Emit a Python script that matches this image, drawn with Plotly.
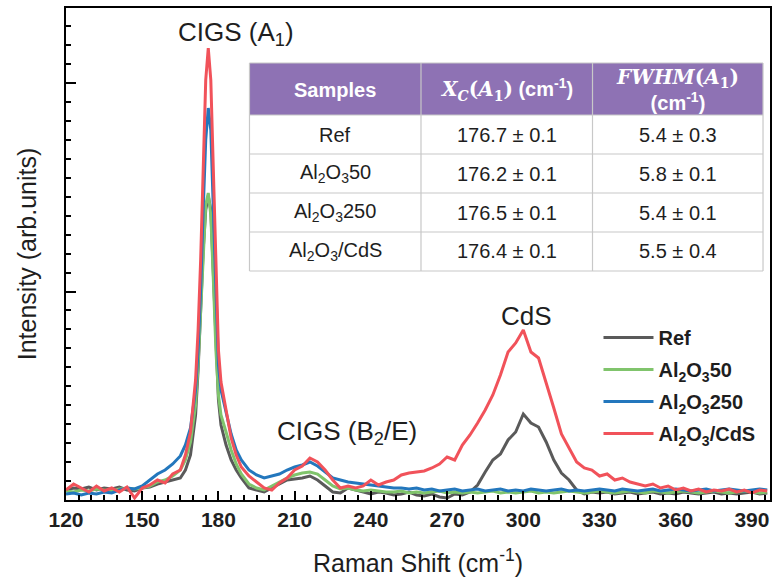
import plotly.graph_objects as go

# ---------------- data ----------------
raman_shift = [120, 123, 126, 129, 132, 135, 138, 141, 144, 147, 150, 153, 156, 159, 162, 165,
               167, 169, 171, 172, 173, 174, 175, 176, 177, 178, 179, 180, 181, 183, 185, 187, 189,
               192, 195, 198, 201, 204, 207, 210, 213, 216, 219, 222, 225, 228, 231, 234, 237, 240,
               243, 246, 249, 252, 255, 258, 261, 264, 267, 270, 273, 276, 279, 282, 285, 288, 291,
               294, 297, 300, 303, 306, 309, 312, 315, 318, 321, 324, 327, 330, 333, 336, 339, 342,
               345, 348, 351, 354, 357, 360, 363, 366, 369, 372, 375, 378, 381, 384, 387, 390, 393, 396]

ref = [10, 12, 11, 13, 10, 12, 11, 13, 10, 9, 12, 13, 16, 18, 20, 22,
       30, 45, 85, 130, 190, 250, 290, 304, 290, 230, 155, 100, 75, 55, 40, 30, 22,
       12, 10, 8, 12, 16, 20, 21, 22, 24, 20, 14, 8, 7, 12, 10, 8, 6,
       8, 7, 5, 6, 8, 5, 4, 6, 3, 2, 6, 5, 8, 15, 28, 40, 46,
       60, 68, 86, 77, 73, 58, 40, 27, 20, 10, 6, 8, 7, 8, 6, 7, 8,
       6, 7, 8, 6, 7, 6, 8, 7, 6, 7, 8, 6, 7, 6, 7, 8, 6, 7]

al2o3_50 = [9, 8, 10, 9, 11, 10, 9, 11, 12, 11, 12, 14, 18, 20, 24, 30,
            40, 58, 95, 135, 190, 250, 295, 307, 285, 220, 150, 105, 85, 68, 50, 36, 26,
            16, 12, 10, 14, 18, 22, 25, 27, 28, 26, 20, 14, 11, 12, 10, 9, 10,
            9, 8, 8, 9, 7, 8, 7, 8, 9, 7, 8, 7, 8, 7, 8, 9, 7,
            8, 7, 8, 9, 7, 8, 7, 8, 9, 8, 7, 8, 9, 8, 7, 8, 9,
            8, 7, 9, 8, 7, 8, 9, 8, 7, 8, 9, 8, 7, 8, 9, 8, 7, 8]

al2o3_250 = [6, 7, 5, 7, 6, 8, 7, 10, 12, 11, 14, 20, 26, 30, 36, 44,
             55, 72, 110, 150, 210, 290, 360, 392, 370, 290, 200, 135, 110, 88, 66, 50, 40,
             30, 25, 22, 24, 26, 30, 33, 35, 38, 34, 28, 22, 20, 18, 17, 16, 15,
             14, 13, 12, 12, 11, 12, 10, 11, 9, 10, 11, 9, 10, 11, 9, 10, 11,
             9, 10, 9, 11, 10, 9, 10, 11, 9, 10, 9, 10, 11, 10, 9, 11, 10,
             9, 10, 11, 9, 10, 11, 10, 9, 10, 11, 9, 10, 11, 10, 9, 10, 11, 10]

al2o3_cds = [10, 16, 12, 8, 14, 9, 12, 8, 13, 2, 12, 15, 20, 17, 26, 30,
             45, 68, 120, 170, 240, 330, 420, 452, 420, 330, 230, 150, 118, 88, 62, 45, 33,
             24, 18, 12, 10, 17, 22, 30, 34, 42, 38, 30, 20, 12, 14, 12, 14, 20,
             15, 18, 20, 25, 27, 28, 29, 32, 36, 43, 40, 55, 65, 77, 90, 105, 125,
             148, 157, 170, 148, 142, 118, 92, 66, 52, 38, 32, 30, 24, 26, 20, 22, 18,
             16, 14, 16, 12, 14, 10, 12, 9, 11, 8, 10, 9, 11, 8, 10, 7, 10, 9]

series_names = ["Ref", "Al<sub>2</sub>O<sub>3</sub>50", "Al<sub>2</sub>O<sub>3</sub>250",
                "Al<sub>2</sub>O<sub>3</sub>/CdS"]
series_values = [ref, al2o3_50, al2o3_250, al2o3_cds]
series_colors = ["#5A5A5A", "#80C46C", "#2377BD", "#F1525A"]

x_ticks = [120, 150, 180, 210, 240, 270, 300, 330, 360, 390]

MATH = "font-family:DejaVu Serif"
table_header = ["<b>Samples</b>",
                f"<span style='{MATH}'><b><i>X<sub>C</sub></i>(<i>A</i><sub>1</sub>)</b></span><b> (cm<sup>-1</sup>)</b>",
                f"<span style='{MATH}'><b><i>FWHM</i>(<i>A</i><sub>1</sub>)</b></span><br><b>(cm<sup>-1</sup>)</b>"]
table_samples = ["Ref", "Al<sub>2</sub>O<sub>3</sub>50", "Al<sub>2</sub>O<sub>3</sub>250",
                 "Al<sub>2</sub>O<sub>3</sub>/CdS"]
table_xc = ["176.7 ± 0.1", "176.2 ± 0.1", "176.5 ± 0.1", "176.4 ± 0.1"]
table_fwhm = ["5.4 ± 0.3", "5.8 ± 0.1", "5.4 ± 0.1", "5.5 ± 0.4"]

# ---------------- geometry (pixels -> paper) ----------------
W, H = 772, 581
ML, MR, MT, MB = 66, 0, 8, 81
PW, PH = W - ML - MR, H - MT - MB


def px(xp):
    return (xp - ML) / PW


def py(yp):
    return (H - MB - yp) / PH


FONT = "Arial, Liberation Sans, sans-serif"
TXT = "#1E1E1E"
fig = go.Figure()

for name, vals, col in zip(series_names, series_values, series_colors):
    fig.add_trace(go.Scatter(x=raman_shift, y=vals, mode="lines", name="<b>" + name + "</b>",
                             legendgroup=name, line=dict(color=col, width=3)))

# ---------------- table drawn with shapes + annotations ----------------
col_edges = [250, 422, 594, 765]
row_edges = [63, 115, 154, 193, 232, 271]
shapes = []
annotations = []
shapes.append(dict(type="rect", xref="paper", yref="paper", x0=px(col_edges[0]), x1=px(col_edges[-1]),
                   y0=py(row_edges[1]), y1=py(row_edges[0]), fillcolor="#8E72B4", line=dict(width=0),
                   layer="above"))
shapes.append(dict(type="rect", xref="paper", yref="paper", x0=px(col_edges[0]), x1=px(col_edges[-1]),
                   y0=py(row_edges[-1]), y1=py(row_edges[1]), fillcolor="white", line=dict(width=0),
                   layer="above"))
for r in row_edges:
    shapes.append(dict(type="line", xref="paper", yref="paper", x0=px(col_edges[0]), x1=px(col_edges[-1]),
                       y0=py(r), y1=py(r), line=dict(color="#C8C8C8", width=1.2), layer="above"))
for c in col_edges:
    shapes.append(dict(type="line", xref="paper", yref="paper", x0=px(c), x1=px(c),
                       y0=py(row_edges[-1]), y1=py(row_edges[0]), line=dict(color="#C8C8C8", width=1.2),
                       layer="above"))

for j, h in enumerate(table_header):
    annotations.append(dict(xref="paper", yref="paper", x=px((col_edges[j] + col_edges[j + 1]) / 2),
                            y=py((row_edges[0] + row_edges[1]) / 2 + 1), text=h, showarrow=False,
                            xanchor="center", yanchor="middle",
                            font=dict(family=FONT, size=20, color="white")))
for j, column in enumerate([table_samples, table_xc, table_fwhm]):
    for i, txt in enumerate(column):
        annotations.append(dict(xref="paper", yref="paper", x=px((col_edges[j] + col_edges[j + 1]) / 2),
                                y=py((row_edges[i + 1] + row_edges[i + 2]) / 2), text=txt, showarrow=False,
                                xanchor="center", yanchor="middle",
                                font=dict(family=FONT, size=20, color=TXT)))

# ---------------- peak labels ----------------
annotations += [
    dict(x=187, y=467, xref="x", yref="y", text="CIGS (A<sub>1</sub>)", showarrow=False,
         font=dict(family=FONT, size=26, color=TXT)),
    dict(x=230.5, y=68, xref="x", yref="y", text="CIGS (B<sub>2</sub>/E)", showarrow=False,
         font=dict(family=FONT, size=26, color=TXT)),
    dict(x=301.3, y=184, xref="x", yref="y", text="CdS", showarrow=False,
         font=dict(family=FONT, size=26, color=TXT)),
]

fig.update_layout(
    width=W, height=H,
    margin=dict(l=ML, r=MR, t=MT, b=MB),
    paper_bgcolor="white", plot_bgcolor="white",
    font=dict(family=FONT, color=TXT),
    showlegend=True,
    legend=dict(x=px(600), y=py(318), xanchor="left", yanchor="top",
                bgcolor="rgba(0,0,0,0)", font=dict(family=FONT, size=20, color=TXT),
                itemwidth=50, tracegroupgap=3),
    xaxis=dict(range=[120, 397.1], tickvals=x_ticks, ticks="inside", ticklen=9, tickwidth=2,
               tickcolor="black", showline=True, linecolor="black", linewidth=2, mirror=True,
               showgrid=False, zeroline=False,
               tickfont=dict(family=FONT, size=21, color=TXT, weight="bold"),
               minor=dict(dtick=5, tick0=120, ticks="inside", ticklen=5, tickwidth=1.5, tickcolor="black"),
               title=dict(text="Raman Shift (cm<sup>-1</sup>)", font=dict(family=FONT, size=25), standoff=24)),
    yaxis=dict(range=[0, 492], tick0=0, dtick=208.5, ticks="inside", ticklen=10, tickwidth=2,
               tickcolor="black", showticklabels=False, showline=True, linecolor="black",
               linewidth=2, mirror=True, showgrid=False, zeroline=False,
               minor=dict(dtick=208.5 / 11, ticks="inside", ticklen=5, tickwidth=1.5, tickcolor="black"),
               title=dict(text="Intensity (arb.units)", font=dict(family=FONT, size=25), standoff=20)),
    shapes=shapes,
    annotations=annotations,
)

fig.write_html("out.html")
